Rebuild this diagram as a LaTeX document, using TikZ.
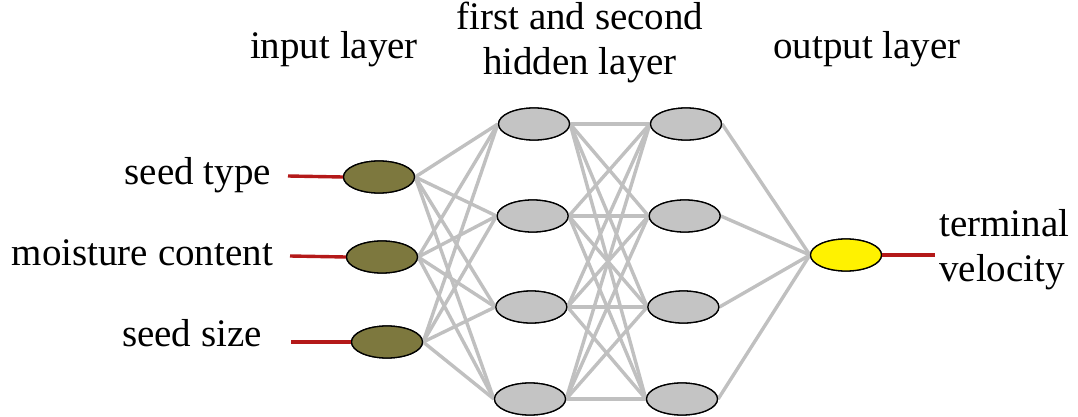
\documentclass[tikz,border=0pt]{standalone}
\usepackage{fontspec}
\setmainfont{Liberation Serif}
\usetikzlibrary{shapes.geometric}
\definecolor{olivein}{RGB}{125,120,62}
\definecolor{hidgray}{RGB}{196,196,196}
\definecolor{linkgray}{RGB}{192,192,192}
\definecolor{leadred}{RGB}{180,25,25}
\begin{document}
\begin{tikzpicture}[x=1pt,y=-1pt,
  neuron/.style={ellipse,draw=black,line width=1.3pt,minimum width=71pt,minimum height=32pt,inner sep=0pt},
  innode/.style={neuron,fill=olivein},
  hidnode/.style={neuron,fill=hidgray},
  outnode/.style={neuron,fill=yellow},
  link/.style={draw=linkgray,line width=3.4pt},
  lead/.style={draw=leadred,line width=3.4pt},
  lbl/.style={font=\fontsize{39}{45}\selectfont,inner sep=0pt}]
\useasboundingbox (0,0) rectangle (1078,417);
\fill[white] (0,0) rectangle (1078,417);

% node positions (nodes are drawn after the links)
\coordinate (i1) at (379,177);
\coordinate (i2) at (382,257);
\coordinate (i3) at (387,342);
\foreach \k/\y in {1/124,2/216,3/307,4/399}{
  \pgfmathsetmacro{\dx}{-(\y-124)/275*4}
  \coordinate (a\k) at (534+\dx,\y);
  \coordinate (b\k) at (686+\dx,\y);
}
\coordinate (o1) at (846,255);

% layer nodes
\foreach \k in {1,2,3}{\node[innode] (I\k) at (i\k) {};}
\foreach \k in {1,2,3,4}{\node[hidnode] (A\k) at (a\k) {}; \node[hidnode] (B\k) at (b\k) {};}
\node[outnode] (O1) at (o1) {};

% connections
\foreach \i in {1,2,3}{\foreach \j in {1,2,3,4}{\draw[link] (I\i.east) -- (A\j.west);}}
\foreach \i in {1,2,3,4}{\foreach \j in {1,2,3,4}{\draw[link] (A\i.east) -- (B\j.west);}}
\foreach \i in {1,2,3,4}{\draw[link] (B\i.east) -- (O1.west);}

% nodes again, on top of the links
\foreach \k in {1,2,3}{\node[innode] at (i\k) {};}
\foreach \k in {1,2,3,4}{\node[hidnode] at (a\k) {}; \node[hidnode] at (b\k) {};}
\node[outnode] at (o1) {};

% input leads and labels
\coordinate (l1) at (288,176);
\coordinate (l2) at (290,256);
\coordinate (l3) at (291,342);
\draw[lead] (l1) -- (I1.west);
\draw[lead] (l2) -- (I2.west);
\draw[lead] (l3) -- (I3.west);
\node[lbl,anchor=east] (t1) at (271,175) {seed type};
\node[lbl,anchor=east] (t2) at (273,253) {moisture content};
\node[lbl,anchor=east] (t3) at (262,333) {seed size};

% output lead and label
\coordinate (r1) at (935,255);
\draw[lead] (O1.east) -- (r1);
\node[lbl,anchor=west,align=left] (tv) at (939,250) {terminal\\velocity};

% layer titles
\node[lbl] (h1) at (334,49) {input layer};
\node[lbl,align=center] (h2) at (580,42) {first and second\\hidden layer};
\node[lbl] (h3) at (867,49) {output layer};
\end{tikzpicture}
\end{document}
